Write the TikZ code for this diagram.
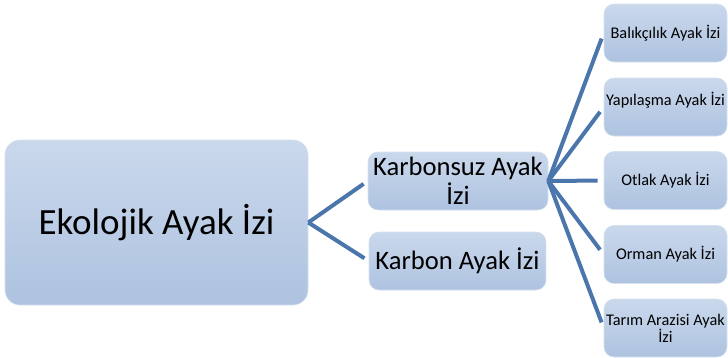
\documentclass[tikz,border=0pt]{standalone}
\usepackage{fontspec}
\setmainfont{Carlito}
\definecolor{boxtop}{HTML}{CAD8EC}
\definecolor{boxbot}{HTML}{AEC3E0}
\definecolor{conn}{HTML}{4A76AB}
\definecolor{boxedge}{HTML}{D6E1F0}
\tikzset{
  boxbase/.style={rectangle, rounded corners=10pt, top color=boxtop, bottom color=boxbot,
    draw=boxedge, line width=0.6pt, inner sep=2pt, align=center, text=black},
  bigbox/.style={boxbase, rounded corners=15pt, minimum width=303pt, minimum height=165pt,
    font=\fontsize{37}{42}\selectfont},
  midbox/.style={boxbase, minimum height=58pt, font=\fontsize{26.6}{29}\selectfont},
  leafbox/.style={boxbase, minimum width=123pt, minimum height=58pt,
    font=\fontsize{16.3}{17}\selectfont},
  conline/.style={draw=conn, line width=4pt}
}
\begin{document}
\begin{tikzpicture}[x=1pt,y=-1pt]
\useasboundingbox (0,0) rectangle (728,357);
\node[bigbox] (eko) at (156.5,222.5) {Ekolojik Ayak İzi};
\node[midbox, minimum width=180pt] (ksz) at (458,181) {Karbonsuz Ayak\\İzi};
\node[midbox, minimum width=177pt] (kb) at (457.5,261) {Karbon Ayak İzi};
\node[leafbox] (bal) at (665.5,33) {Balıkçılık Ayak İzi};
\node[leafbox] (yap) at (665.5,107) {Yapılaşma Ayak İzi\\\mbox{}};
\node[leafbox] (otl) at (665.5,180.5) {Otlak Ayak İzi};
\node[leafbox] (orm) at (665.5,254.5) {Orman Ayak İzi};
\node[leafbox] (tar) at (665.5,328) {Tarım Arazisi Ayak\\İzi};
\draw[conline, shorten >=5pt] (eko.east) -- (ksz.west);
\draw[conline, shorten >=5pt] (eko.east) -- (kb.west);
\foreach \n in {bal,yap,otl,orm,tar}{
  \draw[conline, shorten >=6pt] (ksz.east) -- (\n.west);
}
\end{tikzpicture}
\end{document}
